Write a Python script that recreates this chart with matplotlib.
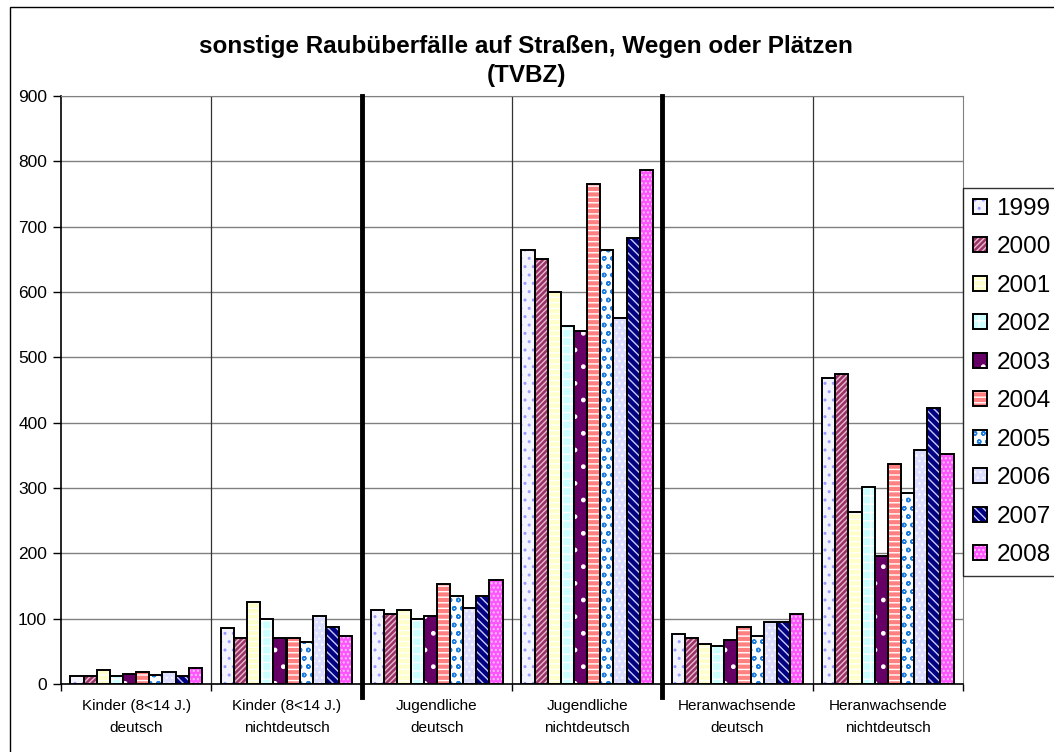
import matplotlib.pyplot as plt
import numpy as np
from matplotlib.patches import Rectangle
from matplotlib.legend_handler import HandlerTuple

plt.rcParams['font.family'] = ['Liberation Sans', 'DejaVu Sans']
plt.rcParams['hatch.linewidth'] = 1.0

# Data
categories = ['Kinder (8<14 J.)\ndeutsch', 'Kinder (8<14 J.)\nnichtdeutsch',
              'Jugendliche\ndeutsch', 'Jugendliche\nnichtdeutsch',
              'Heranwachsende\ndeutsch', 'Heranwachsende\nnichtdeutsch']
years = ['1999', '2000', '2001', '2002', '2003', '2004', '2005', '2006', '2007', '2008']

kinder_de = [12, 12, 22, 12, 15, 18, 14, 18, 12, 25]
kinder_nd = [85, 70, 125, 100, 70, 70, 65, 104, 88, 73]
jugend_de = [113, 107, 113, 100, 104, 153, 135, 116, 135, 159]
jugend_nd = [665, 650, 600, 548, 541, 765, 665, 560, 683, 787]
heran_de = [76, 70, 61, 58, 67, 88, 73, 95, 95, 107]
heran_nd = [468, 475, 263, 301, 196, 337, 293, 358, 422, 352]

values = np.array([kinder_de, kinder_nd, jugend_de, jugend_nd, heran_de, heran_nd])

# Excel-like fill patterns: face colour, pattern colour, hatch
faces = ['#f4f4ff', '#993366', '#ffffcc', '#ccffff', '#660066',
         '#ff8080', '#ffffff', '#ddddff', '#000080', '#ff55ff']
pattern_cols = ['#9999ff', '#e8b8d0', '#ffffff', '#ffffff', '#ffffff',
                '#ffffff', '#1e7fe0', '#f8f8ff', '#c8c8ff', '#ffc8ff']
hatches = ['..', '//////', '---', '++', '.', '---', 'oo', '...', '\\\\\\\\', '....']

fig = plt.figure(figsize=(10.54, 7.52), dpi=100)
ax = fig.add_axes([61 / 1054, 1 - 684 / 752, (963 - 61) / 1054, (684 - 96) / 752])

n = len(years)
width = 0.0875
x = np.arange(len(categories))
handles = []
for j in range(n):
    pos = x + (j - (n - 1) / 2) * width
    b1 = ax.bar(pos, values[:, j], width, color=faces[j], edgecolor=pattern_cols[j],
                hatch=hatches[j], linewidth=0, zorder=3)
    b2 = ax.bar(pos, values[:, j], width, fill=False, edgecolor='black',
                linewidth=1.4, zorder=4)
    handles.append((b1[0], b2[0]))

# grid and separators
ax.set_ylim(0, 900)
ax.set_xlim(-0.5, len(categories) - 0.5)
ax.set_yticks(range(0, 1000, 100))
ax.yaxis.grid(True, color='#808080', linewidth=1)
ax.set_axisbelow(True)
for b in [0.5, 2.5, 4.5]:
    ax.axvline(b, color='#333333', linewidth=0.9, zorder=1)
for b in [1.5, 3.5]:
    ax.axvline(b, ymin=-0.022, ymax=1, color='black', linewidth=3.5,
               clip_on=False, zorder=5)

ax.set_xticks(x)
ax.set_xticklabels(categories, fontsize=11, linespacing=1.7)
ax.set_xticks(np.arange(-0.5, len(categories), 1), minor=True)
ax.tick_params(axis='x', which='major', length=0, pad=11)
ax.tick_params(axis='x', which='minor', length=5, width=1, color='black')
ax.tick_params(axis='y', labelsize=12.5, length=6, width=1, pad=4)

for s in ['top', 'right']:
    ax.spines[s].set_color('#808080')
ax.spines['left'].set_linewidth(1.2)
ax.spines['bottom'].set_linewidth(1.2)

# legend
leg = fig.legend(handles, years, loc='upper left',
                 bbox_to_anchor=(963 / 1054, 1 - 188 / 752),
                 bbox_transform=fig.transFigure,
                 handler_map={tuple: HandlerTuple(ndivide=1)},
                 fontsize=17.5, frameon=True, fancybox=False, borderaxespad=0,
                 handlelength=0.58, handleheight=0.58, handletextpad=0.4,
                 borderpad=0.4, labelspacing=0.68)
leg.get_frame().set_edgecolor('black')
leg.get_frame().set_linewidth(1)

# title
fig.text(526 / 1054, 1 - 35 / 752,
         'sonstige Raubüberfälle auf Straßen, Wegen oder Plätzen\n(TVBZ)',
         ha='center', va='top', fontsize=17.5, fontweight='bold', linespacing=1.35)

# outer chart border
fig.add_artist(Rectangle((10 / 1054, -0.05), 1.0, 1.05 - 7 / 752,
                         transform=fig.transFigure, fill=False,
                         edgecolor='black', linewidth=1))

fig.savefig('out.png', dpi=100)
plt.close()
